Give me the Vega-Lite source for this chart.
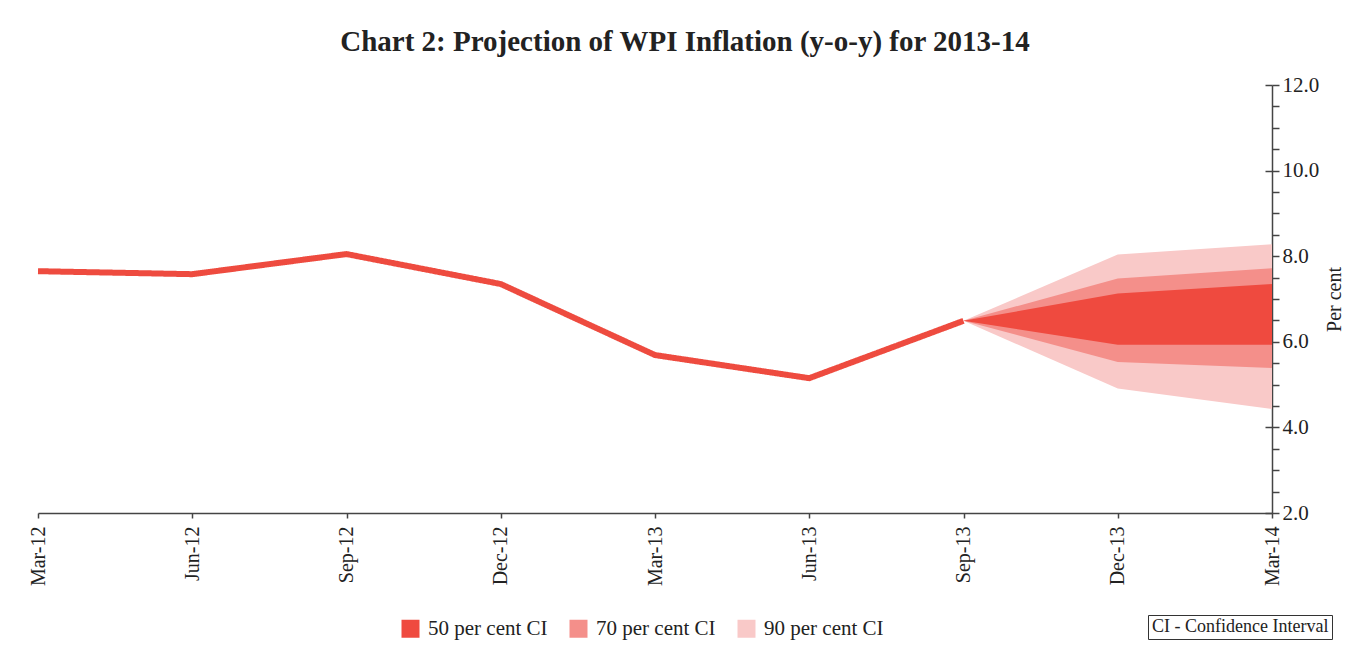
{
  "$schema": "https://vega.github.io/schema/vega-lite/v6.json",
  "autosize": "none",
  "width": 1234,
  "height": 428,
  "padding": {"left": 38, "top": 85, "right": 77, "bottom": 138},
  "background": "white",
  "title": {
    "text": "Chart 2: Projection of WPI Inflation (y-o-y) for 2013-14",
    "font": "Liberation Serif",
    "fontSize": 29,
    "fontWeight": "bold",
    "color": "#222222",
    "anchor": "middle",
    "offset": 17,
    "dx": 30
  },
  "config": {"view": {"stroke": null}, "font": "Liberation Serif"},
  "datasets": {
    "line": [
      {"date": "Mar-12", "value": 7.65, "note": "CI - Confidence Interval"},
      {"date": "Jun-12", "value": 7.58, "note": "CI - Confidence Interval"},
      {"date": "Sep-12", "value": 8.05, "note": "CI - Confidence Interval"},
      {"date": "Dec-12", "value": 7.35, "note": "CI - Confidence Interval"},
      {"date": "Mar-13", "value": 5.69, "note": "CI - Confidence Interval"},
      {"date": "Jun-13", "value": 5.15, "note": "CI - Confidence Interval"},
      {"date": "Sep-13", "value": 6.49, "note": "CI - Confidence Interval"}
    ],
    "fan": [
      {"date": "Sep-13", "band": "90 per cent CI", "lo": 6.49, "hi": 6.49},
      {"date": "Dec-13", "band": "90 per cent CI", "lo": 4.91, "hi": 8.04},
      {"date": "Mar-14", "band": "90 per cent CI", "lo": 4.43, "hi": 8.28},
      {"date": "Sep-13", "band": "70 per cent CI", "lo": 6.49, "hi": 6.49},
      {"date": "Dec-13", "band": "70 per cent CI", "lo": 5.53, "hi": 7.48},
      {"date": "Mar-14", "band": "70 per cent CI", "lo": 5.39, "hi": 7.72},
      {"date": "Sep-13", "band": "50 per cent CI", "lo": 6.49, "hi": 6.49},
      {"date": "Dec-13", "band": "50 per cent CI", "lo": 5.93, "hi": 7.13},
      {"date": "Mar-14", "band": "50 per cent CI", "lo": 5.93, "hi": 7.35}
    ]
  },
  "encoding": {
    "x": {
      "field": "date",
      "type": "ordinal",
      "sort": ["Mar-12", "Jun-12", "Sep-12", "Dec-12", "Mar-13", "Jun-13", "Sep-13", "Dec-13", "Mar-14"],
      "scale": {
        "type": "point",
        "padding": 0,
        "domain": ["Mar-12", "Jun-12", "Sep-12", "Dec-12", "Mar-13", "Jun-13", "Sep-13", "Dec-13", "Mar-14"]
      },
      "axis": {
        "title": null,
        "labelAngle": 270,
        "labelFont": "Liberation Serif",
        "labelFontSize": 20,
        "labelColor": "#222222",
        "labelPadding": 8,
        "tickSize": 5,
        "tickColor": "#444444",
        "domainColor": "#444444",
        "domainWidth": 1.5,
        "tickWidth": 1.5,
        "grid": false
      }
    }
  },
  "layer": [
    {
      "data": {"name": "fan"},
      "transform": [{"filter": "datum.band === '90 per cent CI'"}],
      "mark": {"type": "area", "opacity": 1},
      "encoding": {
        "y": {
          "field": "lo",
          "type": "quantitative",
          "scale": {"domain": [2, 12], "zero": false, "nice": false},
          "axis": {
            "orient": "right",
            "values": [2, 2.5, 3, 3.5, 4, 4.5, 5, 5.5, 6, 6.5, 7, 7.5, 8, 8.5, 9, 9.5, 10, 10.5, 11, 11.5, 12],
            "labelExpr": "datum.value % 2 == 0 ? format(datum.value, '.1f') : ''",
            "labelFlush": false,
            "labelOverlap": false,
            "labelFont": "Liberation Serif",
            "labelFontSize": 21,
            "labelColor": "#222222",
            "labelPadding": 3,
            "tickSize": 7,
            "tickColor": "#444444",
            "tickWidth": 1.5,
            "domainColor": "#444444",
            "domainWidth": 1.5,
            "grid": false,
            "title": "Per cent",
            "titleAngle": 270,
            "titleFont": "Liberation Serif",
            "titleFontSize": 20,
            "titleFontWeight": "normal",
            "titleColor": "#222222",
            "titlePadding": 26
          }
        },
        "y2": {"field": "hi"},
        "color": {
          "field": "band",
          "type": "nominal",
          "scale": {
            "domain": ["50 per cent CI", "70 per cent CI", "90 per cent CI"],
            "range": ["#EF4A3F", "#F48F8A", "#F9C9C8"]
          },
          "legend": {
            "title": null,
            "orient": "none",
            "direction": "horizontal",
            "legendX": 362,
            "legendY": 533,
            "symbolType": "square",
            "symbolSize": 324,
            "symbolStrokeWidth": 0,
            "symbolOpacity": 1,
            "labelFont": "Liberation Serif",
            "labelFontSize": 21,
            "labelColor": "#222222",
            "labelOffset": 7,
            "labelLimit": 0,
            "columnPadding": 20
          }
        }
      }
    },
    {
      "data": {"name": "fan"},
      "transform": [{"filter": "datum.band === '70 per cent CI'"}],
      "mark": {"type": "area", "opacity": 1},
      "encoding": {
        "y": {"field": "lo", "type": "quantitative", "axis": null},
        "y2": {"field": "hi"},
        "color": {"field": "band", "type": "nominal"}
      }
    },
    {
      "data": {"name": "fan"},
      "transform": [{"filter": "datum.band === '50 per cent CI'"}],
      "mark": {"type": "area", "opacity": 1},
      "encoding": {
        "y": {"field": "lo", "type": "quantitative", "axis": null},
        "y2": {"field": "hi"},
        "color": {"field": "band", "type": "nominal"}
      }
    },
    {
      "data": {"name": "line"},
      "mark": {"type": "line", "color": "#EE4B3F", "strokeWidth": 6, "strokeJoin": "miter", "strokeCap": "butt"},
      "encoding": {
        "y": {
          "field": "value",
          "type": "quantitative",
          "axis": {
            "orient": "right",
            "values": [2, 4, 6, 8, 10, 12],
            "labels": false,
            "domain": false,
            "grid": false,
            "title": null,
            "tickSize": -7,
            "tickColor": "#444444",
            "tickWidth": 1.5
          }
        },
        "strokeDash": {
          "field": "note",
          "type": "nominal",
          "scale": {"domain": ["CI - Confidence Interval"], "range": [[1, 0]]},
          "legend": {
            "title": null,
            "orient": "none",
            "legendX": 1110,
            "legendY": 530,
            "strokeColor": "#333333",
            "padding": 3,
            "symbolOpacity": 0,
            "symbolSize": 1,
            "symbolStrokeWidth": 0,
            "labelOffset": -17,
            "labelLimit": 0,
            "labelFont": "Liberation Serif",
            "labelFontSize": 18,
            "labelColor": "#222222"
          }
        }
      }
    }
  ],
  "resolve": {"axis": {"y": "independent"}}
}
